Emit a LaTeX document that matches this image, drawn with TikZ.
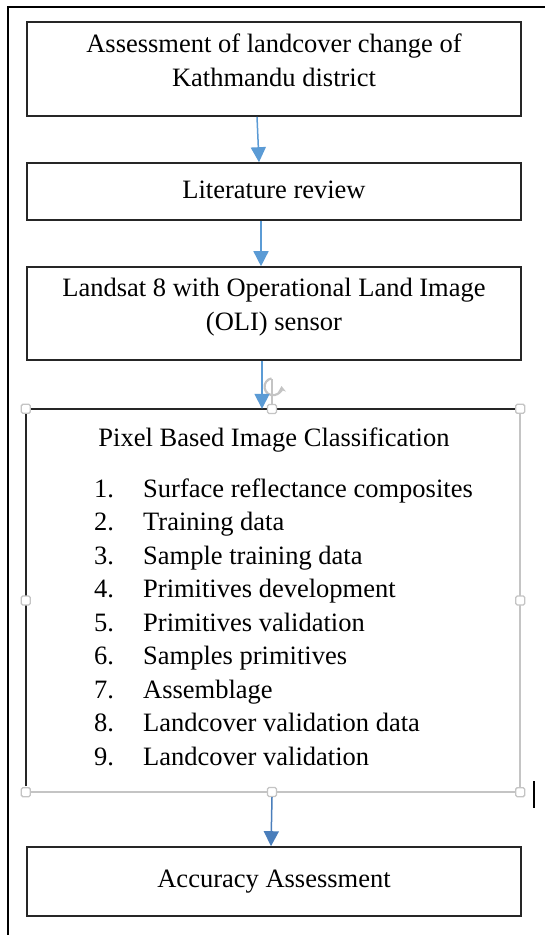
\documentclass[tikz,border=0pt]{standalone}
\usepackage{fontspec}
\setmainfont{Liberation Serif}
\usetikzlibrary{arrows.meta,calc}
\definecolor{arrblue}{HTML}{5B9BD5}
\definecolor{arrblue2}{HTML}{4A7EBB}
\definecolor{boxline}{HTML}{262626}
\definecolor{selgray}{HTML}{C4C4C4}
\tikzset{
  box/.style={draw=boxline, line width=1.6pt, minimum width=494pt, inner sep=0pt},
  txt/.style={font=\fontsize{26.5}{33.5}\selectfont, inner sep=0pt, anchor=base},
  ltxt/.style={font=\fontsize{26.5}{33.5}\selectfont, inner sep=0pt, anchor=base west},
  flow/.style={draw=arrblue, line width=1.5pt, -{Triangle[length=15pt,width=15pt]}},
  handle/.style={draw=selgray, fill=white, line width=1.3pt, rounded corners=1.5pt, minimum size=9pt, inner sep=0pt},
}
\begin{document}
\begin{tikzpicture}[x=1pt,y=-1pt]
\useasboundingbox (0,0) rectangle (545,935);
\fill[white] (0,0) rectangle (545,935);
% outer frame
\draw[line width=2.4pt] (8,940) -- (8,7) -- (550,7);

% boxes
\node[box, minimum height=94pt] (b1) at (274,69) {};
\node[txt] (b1a) at (274,52) {Assessment of landcover change of};
\node[txt] (b1b) at (274,86) {Kathmandu district};

\node[box, minimum height=57pt] (b2) at (274,191.5) {};
\node[txt] (b2a) at (274,198) {Literature review};

\node[box, minimum height=93pt] (b3) at (274,313.5) {};
\node[txt] (b3a) at (274,296) {Landsat 8 with Operational Land Image};
\node[txt] (b3b) at (274,330) {(OLI) sensor};

% pixel box (selected)
\node[minimum width=494pt, minimum height=383pt, inner sep=0pt] (px) at (273,600.5) {};
\draw[selgray, line width=1.8pt] (px.north east) -- (px.south east) -- (px.south west);
\draw[boxline, line width=2.2pt] ($(px.south west)+(0,-6)$) -- (px.north west) -- (px.north east);
\node[txt] (pxt) at (274,446) {Pixel Based Image Classification};
\foreach \i/\t [count=\k from 0] in {1/Surface reflectance composites,2/Training data,3/Sample training data,4/Primitives development,5/Primitives validation,6/Samples primitives,7/Assemblage,8/Landcover validation data,9/Landcover validation}{
  \node[ltxt] (n\i) at (94,497+33.5*\k) {\i.};
  \node[ltxt] (t\i) at (143,497+33.5*\k) {\t};
}
% rotation handle
\coordinate (rot) at (273,370);
\draw[selgray, line width=1.4pt] (272,379) -- (px.north -| 272,0);
\draw[selgray, line width=2.2pt, -{Stealth[length=6pt,width=8pt]}] ($(rot)+(100:8.5)$) arc[start angle=100, end angle=365, radius=8.5pt];
% selection handles
\foreach \p in {px.north west,px.north east,px.south west,px.south east,px.west,px.east}{
  \node[handle] at (\p) {};
}
\node[handle] (hn) at (272,409) {};
\node[handle] (hs) at (272,792) {};
% cursor
\draw[black, line width=1.5pt] (534,781) -- (534,808);

\node[box, minimum height=69pt] (b5) at (274,881.5) {};
\node[txt] (b5a) at (274,887) {Accuracy Assessment};

% connectors
\draw[flow] ($(b1.south)+(-17,0)$) -- ($(b2.north)+(-15,0)$);
\draw[flow] ($(b2.south)+(-13,0)$) -- ($(b3.north)+(-13,0)$);
\draw[flow] ($(b3.south)+(-12,0)$) -- ($(px.north)+(-11,0)$);
\draw[flow, draw=arrblue2] (hs.south) -- ($(b5.north)+(-3,0)$);
\end{tikzpicture}
\end{document}
